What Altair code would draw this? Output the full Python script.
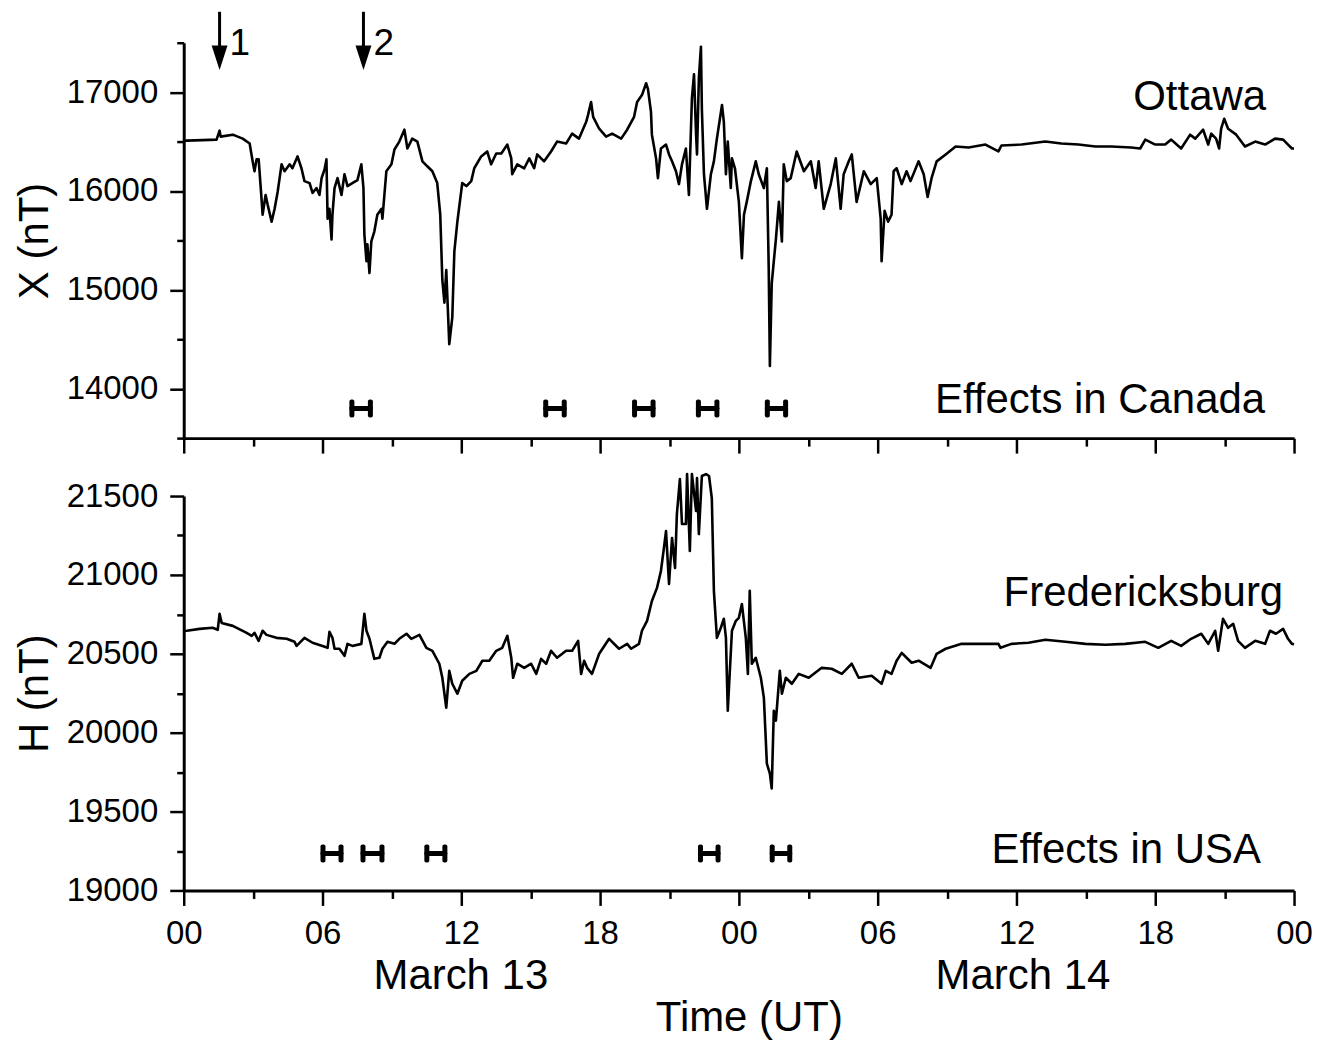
import altair as alt
import pandas as pd

FONT = "Liberation Sans"

# Ottawa, X component (hours since 00 UT March 13, nT)
ottawa_hours = [0.0, 0.13, 0.8, 1.42, 1.55, 1.6, 2.12, 2.55, 2.85, 2.98, 3.06, 3.15, 3.24, 3.37, 3.41, 3.54,
                3.63, 3.80, 3.93, 4.06, 4.23, 4.36, 4.58, 4.70, 4.92, 5.09, 5.22, 5.44, 5.57, 5.74, 5.87, 5.96,
                6.09, 6.17, 6.22, 6.30, 6.39, 6.43, 6.52, 6.65, 6.82, 6.95, 7.08, 7.29, 7.51, 7.68, 7.77, 7.81,
                7.90, 7.94, 8.03, 8.11, 8.24, 8.37, 8.55, 8.59, 8.76, 8.98, 9.11, 9.32, 9.54, 9.67, 9.88, 10.10,
                10.32, 10.53, 10.75, 10.96, 11.09, 11.18, 11.27, 11.35, 11.48, 11.61, 11.70, 11.83, 12.04, 12.22,
                12.43, 12.56, 12.86, 13.12, 13.29, 13.51, 13.73, 13.99, 14.16, 14.20, 14.42, 14.72, 14.94, 15.15,
                15.28, 15.58, 15.88, 16.14, 16.53, 16.79, 17.09, 17.40, 17.48, 17.61, 17.70, 17.96, 18.26, 18.52,
                18.91, 19.17, 19.47, 19.60, 19.81, 19.99, 20.07, 20.20, 20.24, 20.42, 20.50, 20.63, 20.85, 20.98,
                21.11, 21.28, 21.41, 21.54, 21.71, 21.84, 21.97, 22.06, 22.15, 22.19, 22.27, 22.36, 22.40, 22.49,
                22.62, 22.79, 22.92, 23.05, 23.27, 23.35, 23.44, 23.52, 23.65, 23.70, 23.83, 24.00, 24.13, 24.22,
                24.34, 24.52, 24.73, 24.86, 25.08, 25.21, 25.29, 25.34, 25.42, 25.51, 25.60, 25.73, 25.86, 25.94,
                26.07, 26.24, 26.50, 26.81, 27.11, 27.32, 27.45, 27.67, 27.97, 28.19, 28.40, 28.53, 28.75, 28.88,
                29.09, 29.40, 29.70, 29.96, 30.13, 30.17, 30.30, 30.45, 30.60, 30.69, 30.82, 31.04, 31.25, 31.42,
                31.77, 31.99, 32.16, 32.33, 32.55, 32.94, 33.37, 33.93, 34.66, 35.22, 35.35, 36.22, 37.25, 37.94,
                38.68, 39.41, 40.10, 40.96, 41.35, 41.57, 42.00, 42.43, 42.69, 43.12, 43.51, 43.73, 44.07, 44.29,
                44.42, 44.63, 44.76, 44.85, 44.98, 45.15, 45.50, 45.88, 46.32, 46.75, 47.18, 47.53, 47.74, 47.91,
                48.0]
ottawa_x = [16510, 16510, 16515, 16520, 16610, 16550, 16570, 16530, 16480, 16300, 16200, 16320, 16320, 15900, 15760, 15960,
            15860, 15690, 15820, 15990, 16270, 16200, 16270, 16230, 16350, 16230, 16100, 16080, 15980, 16030, 15960, 16130,
            16220, 16320, 15720, 15820, 15510, 15760, 16030, 16130, 15960, 16170, 16050, 16080, 16110, 16270, 16030, 15560,
            15290, 15460, 15170, 15490, 15590, 15760, 15820, 15720, 16200, 16270, 16420, 16500, 16620, 16430, 16530, 16500,
            16300, 16250, 16200, 16080, 15760, 15100, 14870, 15200, 14450, 14720, 15390, 15690, 16080, 16050,
            16100, 16230, 16350, 16400, 16270, 16380, 16380, 16470, 16330, 16170, 16270, 16230, 16330, 16230,
            16370, 16300, 16400, 16500, 16480, 16580, 16530, 16700, 16770, 16900, 16750, 16630, 16550, 16580,
            16530, 16620, 16750, 16900, 16970, 17090, 17030, 16800, 16570, 16330, 16130, 16430, 16470, 16370,
            16300, 16200, 16070, 16270, 16430, 15960, 16940, 17180, 16570, 16370, 17140, 17460, 16830, 16170,
            15820, 16170, 16300, 16530, 16870, 16700, 16170, 16500, 16030, 16330, 16230, 15890, 15320, 15760,
            15890, 16100, 16300, 16170, 16030, 16230, 15220, 14230, 15060, 15290, 15510, 15890, 15490, 16270,
            16100, 16130, 16400, 16200, 16300, 16030, 16300, 15820, 16070, 16330, 15820, 16170, 16300, 16370,
            15890, 16200, 16070, 16130, 15720, 15290, 15800, 15690, 15760, 16200, 16230, 16070, 16200, 16100,
            16300, 16170, 15940, 16130, 16300, 16370, 16450, 16440, 16470, 16400, 16460, 16470, 16500, 16480,
            16470, 16450, 16450, 16440, 16430, 16520, 16470, 16470, 16520, 16430, 16570, 16530, 16620, 16470,
            16580, 16530, 16430, 16630, 16730, 16630, 16570, 16450, 16500, 16470, 16530, 16520, 16470, 16430,
            16430]

# Fredericksburg, H component (hours since 00 UT March 13, nT)
fred_hours = [0.0, 0.13, 0.69, 1.25, 1.47, 1.55, 1.64, 2.12, 2.72, 2.94, 3.06, 3.24, 3.41, 3.58, 4.01, 4.45,
              4.79, 4.88, 5.22, 5.57, 6.00, 6.22, 6.30, 6.43, 6.52, 6.73, 6.95, 7.08, 7.29, 7.68, 7.81, 7.90,
              8.03, 8.24, 8.46, 8.59, 8.81, 9.11, 9.32, 9.63, 9.84, 10.19, 10.49, 10.75, 11.05, 11.18, 11.35, 11.48,
              11.61, 11.83, 12.04, 12.35, 12.65, 12.91, 13.21, 13.51, 13.77, 13.99, 14.16, 14.24, 14.42, 14.72,
              15.02, 15.24, 15.45, 15.67, 15.88, 16.14, 16.53, 16.79, 17.05, 17.18, 17.31, 17.44, 17.65, 17.96,
              18.39, 18.82, 19.17, 19.34, 19.68, 19.81, 20.03, 20.24, 20.46, 20.63, 20.76, 20.85, 20.98, 21.11,
              21.24, 21.32, 21.45, 21.54, 21.71, 21.76, 21.88, 21.97, 22.15, 22.19, 22.27, 22.40, 22.58, 22.71,
              22.83, 22.92, 23.05, 23.22, 23.35, 23.44, 23.52, 23.70, 23.87, 24.00, 24.13, 24.30, 24.39, 24.47,
              24.56, 24.73, 24.95, 25.08, 25.21, 25.34, 25.42, 25.51, 25.60, 25.77, 25.86, 26.03, 26.29, 26.59,
              27.02, 27.58, 28.01, 28.45, 28.88, 29.18, 29.74, 30.17, 30.35, 30.60, 30.82, 31.04, 31.25, 31.47,
              31.77, 32.29, 32.55, 32.94, 33.63, 34.36, 35.22, 35.31, 35.78, 36.52, 37.25, 38.12, 38.98, 39.84,
              40.70, 41.57, 42.13, 42.69, 43.12, 43.55, 43.99, 44.29, 44.59, 44.72, 44.93, 45.15, 45.37, 45.58,
              45.88, 46.32, 46.75, 46.96, 47.22, 47.53, 47.74, 47.91, 48.0]
fred_h = [20645, 20646, 20658, 20665, 20652, 20753, 20696, 20677, 20633, 20614, 20633, 20582, 20646, 20620, 20601, 20595,
          20576, 20550, 20601, 20570, 20550, 20538, 20639, 20601, 20532, 20532, 20487, 20563, 20550, 20563, 20753, 20646,
          20595, 20468, 20475, 20532, 20576, 20563, 20595, 20627, 20595, 20620, 20538, 20519, 20437, 20348, 20158, 20392,
          20310, 20247, 20329, 20373, 20392, 20456, 20456, 20519, 20538, 20614, 20475, 20348, 20437, 20411,
          20437, 20373, 20468, 20437, 20519, 20475, 20519, 20519, 20582, 20373, 20456, 20411, 20373, 20500,
          20595, 20532, 20563, 20532, 20563, 20646, 20709, 20835, 20918, 21025, 21171, 21278, 20943, 21234,
          21044, 21386, 21607, 21323, 21323, 21639, 21152, 21639, 21405, 21614, 21259, 21627, 21639, 21627,
          21487, 20899, 20601, 20665, 20722, 20601, 20139, 20646, 20709, 20728, 20816, 20601, 20373, 20899,
          20437, 20475, 20348, 20222, 19804, 19741, 19646, 20139, 20076, 20392, 20247, 20348, 20310, 20373,
          20348, 20411, 20405, 20373, 20437, 20348, 20361, 20310, 20392, 20373, 20456, 20506, 20475, 20443,
          20456, 20411, 20500, 20532, 20563, 20563, 20563, 20538, 20563, 20570, 20589, 20576, 20563, 20557,
          20563, 20576, 20538, 20582, 20550, 20595, 20627, 20563, 20646, 20519, 20722, 20665, 20690, 20582,
          20538, 20582, 20563, 20646, 20627, 20658, 20595, 20563, 20560]

# Intervals of reported effects (hours)
canada_start = [7.27, 15.65, 19.49, 22.25, 25.23]
canada_end = [8.07, 16.45, 20.29, 23.05, 26.02]
usa_start = [6.02, 7.75, 10.51, 22.34, 25.44]
usa_end = [6.80, 8.57, 11.29, 23.10, 26.20]

# Event arrows
arrow_hours = [1.55, 7.77]
arrow_labels = ["1", "2"]

# Tick values
major_hours = [0, 6, 12, 18, 24, 30, 36, 42, 48]
minor_hours = [3, 9, 15, 21, 27, 33, 39, 45]
x_major = [14000, 15000, 16000, 17000]
x_minor = [13500, 14500, 15500, 16500, 17500]
h_major = [19000, 19500, 20000, 20500, 21000, 21500]
h_minor = [19250, 19750, 20250, 20750, 21250]

# ---------------------------------------------------------------
W, H_TOP, H_BOT = 1112, 396, 395

xs = alt.Scale(domain=[0, 48], nice=False, zero=False)
ys_top = alt.Scale(domain=[13500, 17500], nice=False, zero=False)
ys_bot = alt.Scale(domain=[19000, 21500], nice=False, zero=False)

LABEL_EXPR = "(datum.value % 24 < 10 ? '0' : '') + (datum.value % 24)"


def make_axis(values, size, orient, **extra):
    opts = dict(values=values, orient=orient, tickSize=size, tickWidth=2.5, tickColor="black",
                domain=False, domainWidth=3, domainColor="black", grid=False, labels=False,
                labelFont=FONT, labelFontSize=33, labelColor="black", labelFlush=False,
                labelOverlap=False,
                titleFont=FONT, titleFontSize=42, titleFontWeight="normal", titleColor="black",
                title=None)
    opts.update(extra)
    return alt.Axis(**opts)


def text_layer(notes, yscale, align):
    return alt.Chart(notes).mark_text(
        font=FONT, fontSize=42, color="black", baseline="alphabetic", align=align
    ).encode(
        x=alt.X("hour:Q", scale=xs, axis=None),
        y=alt.Y("val:Q", scale=yscale, axis=None),
        text="text:N",
    )


def panel(df, field, yscale, y_major, y_minor, ytitle, bottom, starts, ends, bar_y):
    if bottom:
        x_major_axis = make_axis(major_hours, 15, "bottom", domain=True, labels=True,
                                 labelExpr=LABEL_EXPR, labelPadding=12, title="Time (UT)",
                                 titleX=566, titleY=140, titleBaseline="alphabetic", titleAlign="center")
    else:
        x_major_axis = make_axis(major_hours, 15, "bottom", domain=True)
    line = alt.Chart(df).mark_line(color="black", strokeWidth=2.6, strokeJoin="round").encode(
        x=alt.X("hour:Q", scale=xs, axis=x_major_axis),
        y=alt.Y(f"{field}:Q", scale=yscale,
                axis=make_axis(y_major, 14, "left", domain=True, labels=True, format="d",
                               labelPadding=12, title=ytitle, titleX=-136,
                               titleBaseline="alphabetic")),
    )
    minor = alt.Chart(df).mark_line(opacity=0).encode(
        x=alt.X("hour:Q", scale=xs, axis=make_axis(minor_hours, 8, "bottom")),
        y=alt.Y(f"{field}:Q", scale=yscale, axis=make_axis(y_minor, 7, "left")),
    )
    ev = pd.DataFrame({"start": starts, "end": ends})
    bars = alt.Chart(ev).mark_rule(color="black", strokeWidth=5, strokeCap="round").encode(
        x=alt.X("start:Q", scale=xs, axis=None),
        x2="end:Q",
        y=alt.YDatum(bar_y, type="quantitative", scale=yscale, axis=None),
    )
    caps = alt.Chart(ev).transform_fold(["start", "end"], as_=["edge", "t"]).mark_tick(
        color="black", orient="vertical", size=18, thickness=5, opacity=1, cornerRadius=2
    ).encode(
        x=alt.X("t:Q", scale=xs, axis=None),
        y=alt.YDatum(bar_y, type="quantitative", scale=yscale, axis=None),
    )
    return [line, minor, bars, caps]


top_df = pd.DataFrame({"hour": ottawa_hours, "X": ottawa_x})
bot_df = pd.DataFrame({"hour": fred_hours, "H": fred_h})

top_notes = pd.DataFrame({"hour": [46.79, 46.75], "val": [16823, 13753],
                          "text": ["Ottawa", "Effects in Canada"]})
bot_notes = pd.DataFrame({"hour": [47.53, 46.57], "val": [20804, 19171],
                          "text": ["Fredericksburg", "Effects in USA"]})
day_notes = pd.DataFrame({"hour": [11.98, 36.28], "val": [18375, 18375],
                          "text": ["March 13", "March 14"]})

top_layers = panel(top_df, "X", ys_top, x_major, x_minor, "X (nT)", False,
                   canada_start, canada_end, 13800)
bot_layers = panel(bot_df, "H", ys_bot, h_major, h_minor, "H (nT)", True,
                   usa_start, usa_end, 19234)

arrow_df = pd.DataFrame({"hour": arrow_hours, "label": arrow_labels})
shaft = alt.Chart(arrow_df).mark_rule(color="black", strokeWidth=3).encode(
    x=alt.X("hour:Q", scale=xs, axis=None),
    y=alt.YDatum(17813, type="quantitative", scale=ys_top, axis=None),
    y2=alt.Y2Datum(17400),
)
head = alt.Chart(arrow_df).mark_point(
    shape="M-0.65,-1L0.65,-1L0,1Z", size=600, filled=True, color="black", opacity=1, strokeWidth=0
).encode(
    x=alt.X("hour:Q", scale=xs, axis=None),
    y=alt.YDatum(17348, type="quantitative", scale=ys_top, axis=None),
)
arrow_txt = alt.Chart(arrow_df).mark_text(
    font=FONT, fontSize=37, color="black", align="left", baseline="alphabetic", dx=10
).encode(
    x=alt.X("hour:Q", scale=xs, axis=None),
    y=alt.YDatum(17380, type="quantitative", scale=ys_top, axis=None),
    text="label:N",
)

top = alt.layer(*top_layers, text_layer(top_notes, ys_top, "right"), shaft, head, arrow_txt).resolve_axis(
    x="independent", y="independent").properties(width=W, height=H_TOP)
bottom = alt.layer(*bot_layers, text_layer(bot_notes, ys_bot, "right"),
                   text_layer(day_notes, ys_bot, "center")).resolve_axis(
    x="independent", y="independent").properties(width=W, height=H_BOT)

chart = alt.vconcat(top, bottom, spacing=58, bounds="flush").properties(
    padding={"left": 14, "top": 9, "right": 5, "bottom": 5}
).configure_view(stroke=None)

chart.save("out.html", embed_options={"renderer": "svg", "actions": False})
